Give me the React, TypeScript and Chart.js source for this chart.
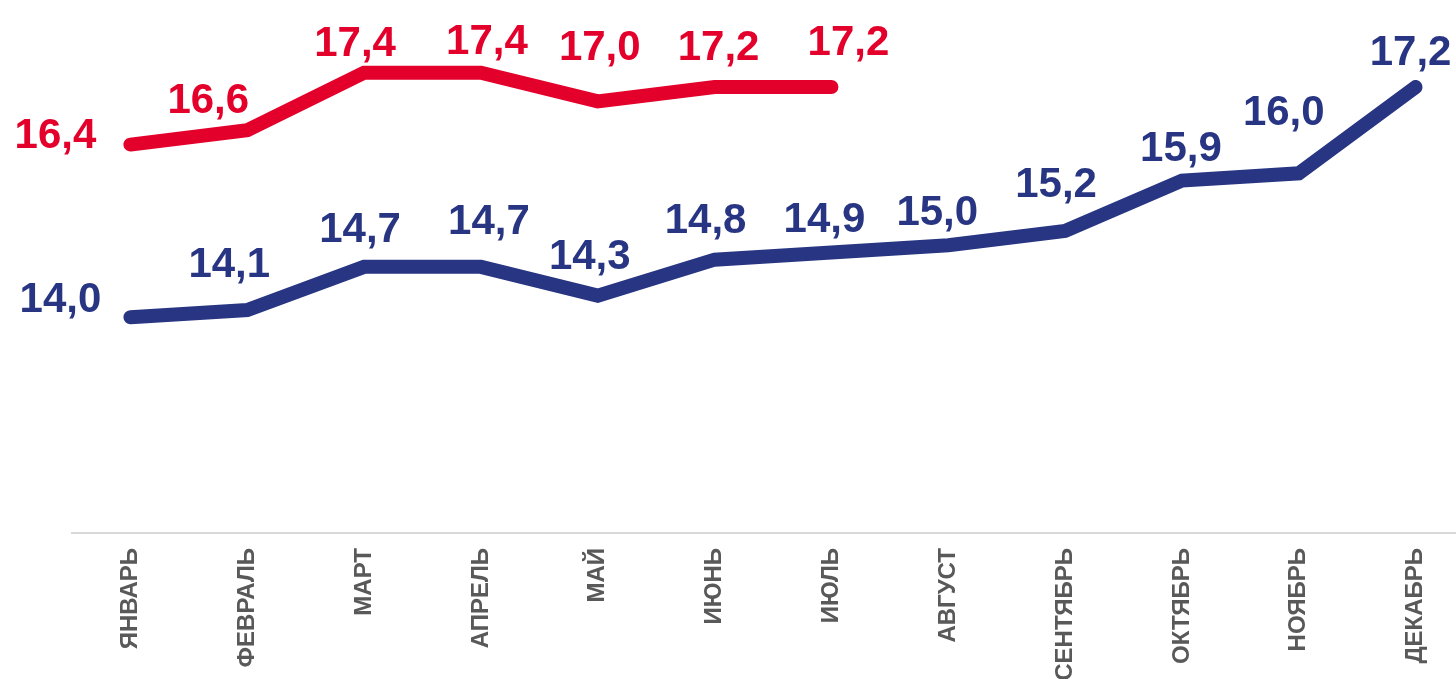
import React, { useEffect, useRef } from "react";
import { Chart, registerables } from "chart.js";

Chart.register(...registerables);

const months = [
  "ЯНВАРЬ", "ФЕВРАЛЬ", "МАРТ", "АПРЕЛЬ", "МАЙ", "ИЮНЬ",
  "ИЮЛЬ", "АВГУСТ", "СЕНТЯБРЬ", "ОКТЯБРЬ", "НОЯБРЬ", "ДЕКАБРЬ",
];

const seriesBlue = [14.0, 14.1, 14.7, 14.7, 14.3, 14.8, 14.9, 15.0, 15.2, 15.9, 16.0, 17.2];
const seriesRed = [16.4, 16.6, 17.4, 17.4, 17.0, 17.2, 17.2, null, null, null, null, null];

const BLUE = "#283583";
const RED = "#E3002B";

// label offsets (px) from each point, style only
const blueLabelOffsets = [
  [-70, -20], [-18, -48], [-4, -40], [8, -48], [-8, -42], [-9, -42],
  [-7, -35], [-11, -35], [-9, -49], [-1, -35], [-15, -63], [-5, -37],
];
const redLabelOffsets = [
  [-75, -12], [-39, -32], [-9, -32], [6, -34], [2, -56], [4, -42], [17, -47],
];

const labelPlugin = {
  id: "valueLabels",
  afterDatasetsDraw(chart: any) {
    const ctx = chart.ctx;
    ctx.save();
    ctx.font = "bold 42px 'Liberation Sans', Arial, sans-serif";
    ctx.textAlign = "center";
    ctx.textBaseline = "alphabetic";
    chart.data.datasets.forEach((ds: any, di: number) => {
      const meta = chart.getDatasetMeta(di);
      const offs = ds.labelOffsets || [];
      ds.data.forEach((v: number | null, i: number) => {
        if (v === null || v === undefined) return;
        const pt = meta.data[i];
        const o = offs[i] || [0, -40];
        ctx.fillStyle = ds.borderColor;
        const txt = v.toFixed(1).replace(".", ",");
        ctx.fillText(txt, pt.x + o[0], pt.y + o[1] + 15);
      });
    });
    ctx.restore();
  },
};

export default function App() {
  const canvasRef = useRef<HTMLCanvasElement | null>(null);

  useEffect(() => {
    document.body.style.margin = "0";
    document.body.style.overflow = "hidden";
    const canvas = canvasRef.current;
    if (!canvas) return;
    const chart = new Chart(canvas, {
      type: "line",
      data: {
        labels: months,
        datasets: [
          {
            label: "blue",
            data: seriesBlue,
            borderColor: BLUE,
            backgroundColor: BLUE,
            borderWidth: 14,
            pointRadius: 0,
            borderCapStyle: "round",
            borderJoinStyle: "miter",
            tension: 0,
            clip: false,
            labelOffsets: blueLabelOffsets,
          } as any,
          {
            label: "red",
            data: seriesRed,
            borderColor: RED,
            backgroundColor: RED,
            borderWidth: 14,
            pointRadius: 0,
            borderCapStyle: "round",
            borderJoinStyle: "miter",
            tension: 0,
            clip: false,
            spanGaps: false,
            labelOffsets: redLabelOffsets,
          } as any,
        ],
      },
      options: {
        animation: false,
        responsive: false,
        maintainAspectRatio: false,
        layout: { padding: { left: 72, right: 6, top: 0, bottom: 0 } },
        plugins: {
          legend: { display: false },
          tooltip: { enabled: false },
        },
        scales: {
          x: {
            offset: true,
            grid: {
              display: true,
              drawOnChartArea: false,
              drawTicks: false,
              color: "transparent",
            },
            border: { display: true, color: "#D9D9D9", width: 2 },
            ticks: {
              autoSkip: false,
              maxRotation: 90,
              minRotation: 90,
              padding: 15,
              color: "#595959",
              font: { family: "'Liberation Sans', Arial, sans-serif", size: 24, weight: "bold" },
            },
            afterFit(scale: any) {
              scale.height = 150;
            },
          },
          y: {
            display: false,
            min: 11,
            max: 18.41,
          },
        },
      },
      plugins: [labelPlugin],
    });
    return () => chart.destroy();
  }, []);

  return (
    <div style={{ width: 1480, height: 683, position: "relative" }}>
      <canvas ref={canvasRef} width={1480} height={683} style={{ display: "block" }} />
    </div>
  );
}
